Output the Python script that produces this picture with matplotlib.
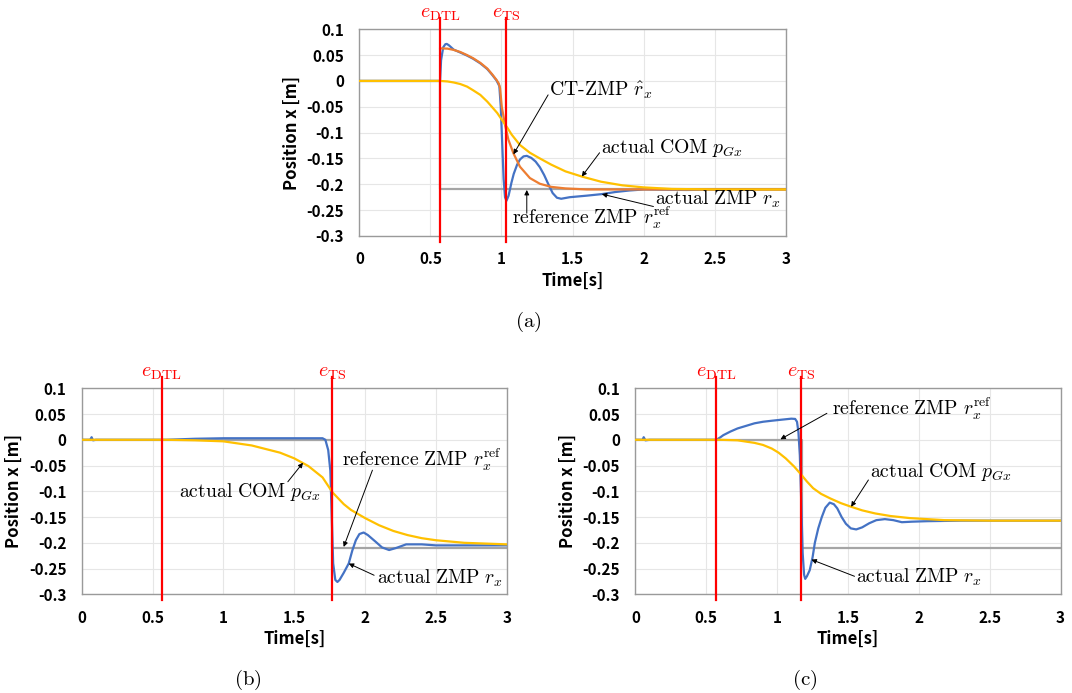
import matplotlib
matplotlib.use("Agg")
import matplotlib.pyplot as plt

plt.rcParams["mathtext.fontset"] = "cm"
plt.rcParams["font.family"] = ["Noto Sans CJK JP", "DejaVu Sans"]

BLUE = "#4472C4"
ORANGE = "#ED7D31"
YELLOW = "#FFC000"
GRAY = "#A5A5A5"
RED = "#FF0000"

x_ticks = [0, 0.5, 1, 1.5, 2, 2.5, 3]
x_tick_labels = ["0", "0.5", "1", "1.5", "2", "2.5", "3"]
y_ticks = [0.1, 0.05, 0, -0.05, -0.1, -0.15, -0.2, -0.25, -0.3]
y_tick_labels = ["0.1", "0.05", "0", "-0.05", "-0.1", "-0.15", "-0.2", "-0.25", "-0.3"]

# ---- (a) ----
a_events = [0.568, 1.032]
a_ref_t = [0, 0.568, 0.568, 3.0]
a_ref_v = [0, 0, -0.21, -0.21]
a_zmp_t = [0, 0.568, 0.575, 0.59, 0.605, 0.615, 0.63, 0.664, 0.71, 0.758, 0.8, 0.851,
           0.9, 0.934, 0.965, 0.985, 0.995, 1.005, 1.015, 1.025, 1.035, 1.05, 1.07,
           1.086, 1.11, 1.13, 1.155, 1.178, 1.21, 1.24, 1.27, 1.3, 1.33, 1.36, 1.39,
           1.42, 1.48, 1.6, 1.706, 1.8, 1.9, 2.0, 2.3, 2.6, 3.0]
a_zmp_v = [0, 0, 0.04, 0.065, 0.071, 0.0716, 0.069, 0.0605, 0.055, 0.049, 0.043, 0.034,
           0.023, 0.012, 0.001, -0.01, -0.05, -0.12, -0.19, -0.225, -0.232, -0.222, -0.197,
           -0.18, -0.162, -0.152, -0.146, -0.145, -0.149, -0.156, -0.167, -0.182, -0.2, -0.217, -0.226,
           -0.228, -0.225, -0.222, -0.219, -0.215, -0.212, -0.21, -0.211, -0.21, -0.21]
a_ct_t = [0.568, 0.62, 0.664, 0.71, 0.758, 0.8, 0.851, 0.9, 0.934, 0.965, 0.981, 0.99,
          1.002, 1.025, 1.049, 1.084, 1.13, 1.2, 1.27, 1.35, 1.45, 1.6, 3.0]
a_ct_v = [0.063, 0.0625, 0.060, 0.056, 0.050, 0.044, 0.035, 0.024, 0.013, 0.002, -0.005, -0.014,
          -0.05, -0.085, -0.114, -0.14, -0.166, -0.188, -0.199, -0.205, -0.208, -0.21, -0.21]
a_com_t = [0, 0.568, 0.62, 0.664, 0.71, 0.758, 0.8, 0.851, 0.9, 0.932, 0.97, 1.002, 1.04,
           1.072, 1.13, 1.2, 1.27, 1.35, 1.45, 1.565, 1.7, 1.85, 2.0, 2.2, 2.5, 3.0]
a_com_v = [0, 0, -0.001, -0.003, -0.006, -0.011, -0.018, -0.027, -0.040, -0.050, -0.062, -0.075, -0.09,
           -0.104, -0.124, -0.139, -0.15, -0.162, -0.175, -0.185, -0.195, -0.202, -0.206, -0.209, -0.21, -0.21]

# ---- (b) ----
b_events = [0.565, 1.77]
b_ref_t = [0, 1.77, 1.77, 3.0]
b_ref_v = [0, 0, -0.21, -0.21]
b_zmp_t = [0, 0.06, 0.07, 0.08, 0.1, 0.6, 0.8, 1.0, 1.5, 1.7, 1.72, 1.74, 1.755, 1.765,
           1.775, 1.79, 1.805, 1.82, 1.85, 1.885, 1.91, 1.935, 1.96, 1.99, 2.02, 2.075,
           2.12, 2.17, 2.22, 2.29, 2.4, 2.5, 2.7, 3.0]
b_zmp_v = [0, 0, 0.005, -0.001, 0, 0.0, 0.002, 0.003, 0.003, 0.003, 0.0, -0.02, -0.06, -0.15,
           -0.24, -0.272, -0.276, -0.272, -0.258, -0.24, -0.215, -0.195, -0.183, -0.18, -0.185, -0.198,
           -0.209, -0.214, -0.21, -0.203, -0.203, -0.205, -0.205, -0.205]
b_com_t = [0, 0.6, 0.8, 1.0, 1.2, 1.4, 1.5, 1.6, 1.7, 1.77, 1.85, 1.9, 2.0, 2.1, 2.2, 2.3,
           2.4, 2.5, 2.7, 3.0]
b_com_v = [0, 0, -0.001, -0.003, -0.011, -0.025, -0.036, -0.051, -0.073, -0.102, -0.125, -0.136,
           -0.152, -0.166, -0.177, -0.185, -0.191, -0.195, -0.2, -0.203]

# ---- (c) ----
c_events = [0.571, 1.171]
c_ref_t = [0, 1.173, 1.173, 3.0]
c_ref_v = [0, 0, -0.21, -0.21]
c_zmp_t = [0, 0.05, 0.058, 0.07, 0.1, 0.572, 0.6, 0.62, 0.67, 0.72, 0.78, 0.84, 0.9, 0.962,
           1.03, 1.1, 1.127, 1.14, 1.15, 1.16, 1.17, 1.18, 1.19, 1.198, 1.21, 1.23, 1.25,
           1.266, 1.29, 1.315, 1.34, 1.371, 1.4, 1.424, 1.455, 1.485, 1.52, 1.558, 1.6,
           1.65, 1.7, 1.76, 1.82, 1.88, 1.95, 2.06, 2.3, 3.0]
c_zmp_v = [0, 0, 0.005, -0.001, 0, 0, 0.005, 0.009, 0.016, 0.022, 0.027, 0.032, 0.035, 0.037,
           0.039, 0.041, 0.0405, 0.035, 0.015, -0.03, -0.12, -0.22, -0.262, -0.27, -0.265, -0.253, -0.228,
           -0.2, -0.172, -0.15, -0.132, -0.122, -0.125, -0.133, -0.15, -0.163, -0.172, -0.174, -0.17,
           -0.162, -0.156, -0.154, -0.156, -0.16, -0.159, -0.158, -0.157, -0.157]
c_com_t = [0, 0.6, 0.72, 0.84, 0.9, 0.962, 1.01, 1.06, 1.12, 1.174, 1.21, 1.254, 1.31, 1.376,
           1.45, 1.522, 1.6, 1.692, 1.8, 1.936, 2.18, 2.5, 3.0]
c_com_v = [0, 0, -0.001, -0.006, -0.01, -0.017, -0.025, -0.036, -0.052, -0.069, -0.081, -0.094,
           -0.105, -0.114, -0.123, -0.13, -0.137, -0.143, -0.148, -0.152, -0.156, -0.157, -0.157]

TXT = 14.2


def style_axes(ax):
    ax.set_xlim(0, 3)
    ax.set_ylim(-0.3, 0.1)
    ax.set_xticks(x_ticks)
    ax.set_xticklabels(x_tick_labels)
    ax.set_yticks(y_ticks)
    ax.set_yticklabels(y_tick_labels)
    ax.tick_params(length=0, labelsize=11, pad=11)
    for lab in ax.get_xticklabels() + ax.get_yticklabels():
        lab.set_fontweight("bold")
    ax.grid(True, color="#E6E6E6", linewidth=0.8)
    ax.set_axisbelow(True)
    for sp in ax.spines.values():
        sp.set_color("#9A9A9A")
        sp.set_linewidth(1.0)
    ax.set_xlabel("Time[s]", fontsize=12, fontweight="bold", labelpad=3)
    ax.set_ylabel("Position x [m]", fontsize=12, fontweight="bold", labelpad=4)


def draw_events(ax, events):
    for ev, name in zip(events, ["DTL", "TS"]):
        ax.plot([ev, ev], [-0.311, 0.122], color=RED, lw=1.6, clip_on=False, zorder=6)
        ax.text(ev, 0.133, r"$e_{\mathrm{%s}}$" % name, color=RED, fontsize=14.5,
                ha="center", va="center")


def label(ax, text, pos, tail, head):
    ax.text(pos[0], pos[1], text, fontsize=TXT, ha="left", va="center", zorder=8)
    ax.annotate("", xy=head, xytext=tail,
                arrowprops=dict(arrowstyle="-|>", color="black", lw=0.7,
                                mutation_scale=7, shrinkA=0, shrinkB=0), zorder=8)


fig = plt.figure(figsize=(10.72, 6.93), dpi=100)
ax_a = fig.add_axes([0.3352, 0.6595, 0.3978, 0.2983])
ax_b = fig.add_axes([0.0762, 0.1424, 0.3965, 0.2973])
ax_c = fig.add_axes([0.5928, 0.1424, 0.3965, 0.2973])

# (a)
ax_a.plot(a_ref_t, a_ref_v, color=GRAY, lw=1.6, zorder=2)
ax_a.plot(a_zmp_t, a_zmp_v, color=BLUE, lw=1.6, zorder=3)
ax_a.plot(a_ct_t, a_ct_v, color=ORANGE, lw=1.6, zorder=4)
ax_a.plot(a_com_t, a_com_v, color=YELLOW, lw=1.6, zorder=5)
style_axes(ax_a)
draw_events(ax_a, a_events)
label(ax_a, r"$\text{CT-ZMP}\ \hat{r}_x$", (1.335, -0.0175), (1.328, -0.027), (1.084, -0.142))
label(ax_a, r"$\mathrm{actual\ COM}\ p_{Gx}$", (1.70, -0.130), (1.69, -0.139), (1.565, -0.185))
label(ax_a, r"$\mathrm{actual\ ZMP}\ r_x$", (2.08, -0.230), (2.069, -0.243), (1.706, -0.219))
label(ax_a, r"$\mathrm{reference\ ZMP}\ r_x^{\mathrm{ref}}$", (1.077, -0.265), (1.178, -0.256), (1.178, -0.211))

# (b)
ax_b.plot(b_ref_t, b_ref_v, color=GRAY, lw=1.6, zorder=2)
ax_b.plot(b_zmp_t, b_zmp_v, color=BLUE, lw=1.6, zorder=3)
ax_b.plot(b_com_t, b_com_v, color=YELLOW, lw=1.6, zorder=5)
style_axes(ax_b)
draw_events(ax_b, b_events)
label(ax_b, r"$\mathrm{actual\ COM}\ p_{Gx}$", (0.686, -0.101), (1.455, -0.0815), (1.562, -0.0446))
label(ax_b, r"$\mathrm{reference\ ZMP}\ r_x^{\mathrm{ref}}$", (1.837, -0.039), (2.052, -0.059), (1.849, -0.208))
label(ax_b, r"$\mathrm{actual\ ZMP}\ r_x$", (2.081, -0.2695), (2.064, -0.263), (1.885, -0.2403))

# (c)
ax_c.plot(c_ref_t, c_ref_v, color=GRAY, lw=1.6, zorder=2)
ax_c.plot(c_zmp_t, c_zmp_v, color=BLUE, lw=1.6, zorder=3)
ax_c.plot(c_com_t, c_com_v, color=YELLOW, lw=1.6, zorder=5)
style_axes(ax_c)
draw_events(ax_c, c_events)
label(ax_c, r"$\mathrm{reference\ ZMP}\ r_x^{\mathrm{ref}}$", (1.388, 0.0592), (1.351, 0.0514), (1.023, 0.001))
label(ax_c, r"$\mathrm{actual\ COM}\ p_{Gx}$", (1.655, -0.062), (1.644, -0.078), (1.522, -0.130))
label(ax_c, r"$\mathrm{actual\ ZMP}\ r_x$", (1.558, -0.2676), (1.546, -0.265), (1.242, -0.2326))

fig.text(528 / 1072, 1 - 322 / 693, r"$\mathrm{(a)}$", fontsize=15, ha="center", va="center")
fig.text(248 / 1072, 1 - 680 / 693, r"$\mathrm{(b)}$", fontsize=15, ha="center", va="center")
fig.text(805 / 1072, 1 - 680 / 693, r"$\mathrm{(c)}$", fontsize=15, ha="center", va="center")

fig.savefig("out.png", dpi=100)
